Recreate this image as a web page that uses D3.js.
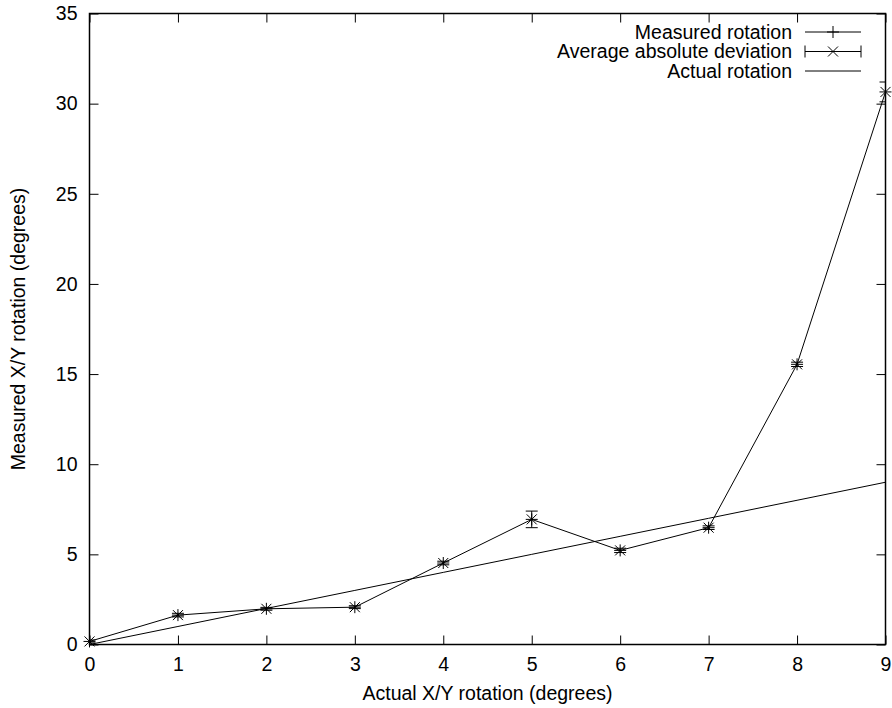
<!DOCTYPE html>
<html>
<head>
<meta charset="utf-8">
<script src="https://cdn.jsdelivr.net/npm/d3@7"></script>
<style>
  html, body { margin: 0; padding: 0; background: #fff; }
  svg text { font-family: "Liberation Sans", Arial, Helvetica, sans-serif; fill: #000; }
</style>
</head>
<body>
<svg id="chart" width="892" height="708"></svg>
<script>
// Actual rotation steps (degrees)
const actual = [0, 1, 2, 3, 4, 5, 6, 7, 8, 9];
// Measured rotation at each step (degrees)
const measured = [0.17, 1.63, 1.98, 2.07, 4.52, 6.94, 5.22, 6.48, 15.54, 30.65];
// Average absolute deviation of the measurements
const deviation = [0.08, 0.1, 0.08, 0.08, 0.1, 0.46, 0.12, 0.1, 0.12, 0.55];
const xTicks = [0, 1, 2, 3, 4, 5, 6, 7, 8, 9];
const yTicks = [0, 5, 10, 15, 20, 25, 30, 35];
const legendLabels = ["Measured rotation", "Average absolute deviation", "Actual rotation"];

const svg = d3.select("#chart");
const m = { left: 89.5, right: 885.5, top: 13.5, bottom: 644.5 };

const x = d3.scaleLinear().domain([0, 9]).range([m.left, m.right]);
const y = d3.scaleLinear().domain([0, 35]).range([m.bottom, m.top]);

const tickLen = 9;
const fontSize = 19.5;

// Axes: labels on bottom/left, inward ticks on all four sides
const gx = svg.append("g").attr("transform", `translate(0,${m.bottom})`)
  .call(d3.axisBottom(x).tickValues(xTicks).tickSize(-tickLen).tickPadding(0).tickFormat(d3.format("d")));
const gxTop = svg.append("g").attr("transform", `translate(0,${m.top})`)
  .call(d3.axisTop(x).tickValues(xTicks).tickSize(-tickLen).tickFormat(""));
const gy = svg.append("g").attr("transform", `translate(${m.left},0)`)
  .call(d3.axisLeft(y).tickValues(yTicks).tickSize(-tickLen).tickPadding(tickLen + 3).tickFormat(d3.format("d")));
const gyRight = svg.append("g").attr("transform", `translate(${m.right},0)`)
  .call(d3.axisRight(y).tickValues(yTicks).tickSize(-tickLen).tickFormat(""));

[gx, gxTop, gy, gyRight].forEach(g => {
  g.select(".domain").remove();
  g.selectAll(".tick line").attr("stroke", "#000").attr("stroke-width", 1);
  g.selectAll("text").attr("font-size", fontSize).style("font-family", '"Liberation Sans", Arial, sans-serif');
});
gx.selectAll("text").attr("y", 26).attr("dy", 0);

// Plot border
svg.append("rect")
  .attr("x", m.left).attr("y", m.top)
  .attr("width", m.right - m.left).attr("height", m.bottom - m.top)
  .attr("fill", "none").attr("stroke", "#000").attr("stroke-width", 1.5);

// Axis titles
svg.append("text")
  .attr("x", (m.left + m.right) / 2).attr("y", 700)
  .attr("text-anchor", "middle").attr("font-size", fontSize)
  .text("Actual X/Y rotation (degrees)");
svg.append("text")
  .attr("transform", `translate(25,${(m.top + m.bottom) / 2}) rotate(-90)`)
  .attr("text-anchor", "middle").attr("font-size", fontSize)
  .text("Measured X/Y rotation (degrees)");

svg.append("clipPath").attr("id", "plotClip")
  .append("rect")
  .attr("x", m.left).attr("y", m.top)
  .attr("width", m.right - m.left).attr("height", m.bottom - m.top);

const plot = svg.append("g");

// Actual rotation reference line (y = x)
plot.append("path")
  .datum(actual)
  .attr("d", d3.line().x(d => x(d)).y(d => y(d)))
  .attr("fill", "none").attr("stroke", "#000").attr("stroke-width", 1);

// Measured rotation line
const pts = actual.map((a, i) => ({ a, v: measured[i], e: deviation[i] }));
plot.append("path")
  .datum(pts)
  .attr("d", d3.line().x(d => x(d.a)).y(d => y(d.v)))
  .attr("fill", "none").attr("stroke", "#000").attr("stroke-width", 1);

// Error bars (clipped to the plot frame)
const cap = 6;
const eb = plot.append("g").attr("clip-path", "url(#plotClip)")
  .selectAll("g.eb").data(pts).join("g").attr("class", "eb");
eb.append("line")
  .attr("x1", d => x(d.a)).attr("x2", d => x(d.a))
  .attr("y1", d => y(d.v - d.e)).attr("y2", d => y(d.v + d.e))
  .attr("stroke", "#000");
eb.append("line")
  .attr("x1", d => x(d.a) - cap).attr("x2", d => x(d.a) + cap)
  .attr("y1", d => y(d.v - d.e)).attr("y2", d => y(d.v - d.e))
  .attr("stroke", "#000");
eb.append("line")
  .attr("x1", d => x(d.a) - cap).attr("x2", d => x(d.a) + cap)
  .attr("y1", d => y(d.v + d.e)).attr("y2", d => y(d.v + d.e))
  .attr("stroke", "#000");

// Point markers: "+" and "x"
function plus(g, cx, cy, s) {
  g.append("line").attr("x1", cx - s).attr("x2", cx + s).attr("y1", cy).attr("y2", cy).attr("stroke", "#000");
  g.append("line").attr("x1", cx).attr("x2", cx).attr("y1", cy - s).attr("y2", cy + s).attr("stroke", "#000");
}
function cross(g, cx, cy, s) {
  g.append("line").attr("x1", cx - s).attr("x2", cx + s).attr("y1", cy - s).attr("y2", cy + s).attr("stroke", "#000");
  g.append("line").attr("x1", cx - s).attr("x2", cx + s).attr("y1", cy + s).attr("y2", cy - s).attr("stroke", "#000");
}
pts.forEach(d => {
  plus(plot, x(d.a), y(d.v), 6);
  cross(plot, x(d.a), y(d.v), 5);
});

// Legend
const legX = 792, sx1 = 805, sx2 = 861;
const legY = [32, 51.5, 71];
const leg = svg.append("g");
legendLabels.forEach((t, i) => {
  leg.append("text").attr("x", legX).attr("y", legY[i]).attr("dy", "0.35em")
    .attr("text-anchor", "end").attr("font-size", fontSize).text(t);
  leg.append("line").attr("x1", sx1).attr("x2", sx2).attr("y1", legY[i]).attr("y2", legY[i]).attr("stroke", "#000");
});
const mid = (sx1 + sx2) / 2;
plus(leg, mid, legY[0], 6);
cross(leg, mid, legY[1], 5);
leg.append("line").attr("x1", sx1).attr("x2", sx1).attr("y1", legY[1] - 6).attr("y2", legY[1] + 6).attr("stroke", "#000");
leg.append("line").attr("x1", sx2).attr("x2", sx2).attr("y1", legY[1] - 6).attr("y2", legY[1] + 6).attr("stroke", "#000");
</script>
</body>
</html>
